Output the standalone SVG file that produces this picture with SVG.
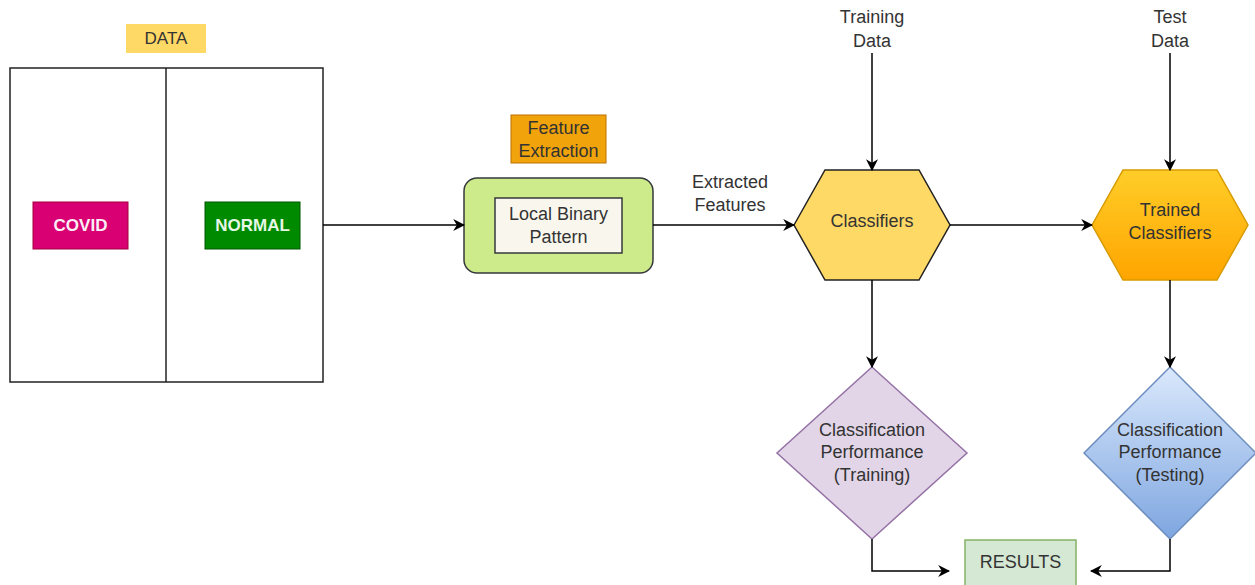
<svg xmlns="http://www.w3.org/2000/svg" width="1255" height="585" viewBox="0 0 1255 585">
<style>
text{font-family:"Liberation Sans",Arial,sans-serif;font-size:18px;fill:#333;text-anchor:middle;dominant-baseline:central}
.c{fill:none;stroke:#000;stroke-width:1.5;marker-end:url(#ah)}
.w{fill:#fbeef6;font-weight:bold;font-size:17px}
.g{fill:#e6f7e6;font-weight:bold;font-size:17px}
</style>
<defs>
<marker id="ah" viewBox="0 0 10 10" refX="9" refY="5" markerWidth="12" markerHeight="12" markerUnits="userSpaceOnUse" orient="auto"><path d="M0,0 L10,5 L0,10 L3,5 Z" fill="#000"/></marker>
<linearGradient id="og" x1="0" y1="0" x2="0" y2="1"><stop offset="0" stop-color="#ffcd28"/><stop offset="1" stop-color="#ffa500"/></linearGradient>
<linearGradient id="bg" x1="0" y1="0" x2="0" y2="1"><stop offset="0" stop-color="#dae8fc"/><stop offset="1" stop-color="#7ea6e0"/></linearGradient>
</defs>
<rect width="1255" height="585" fill="#fff"/>
<g id="data-label"><rect x="126" y="24" width="80" height="29" fill="#ffd966"/><text x="166" y="38.5" style="font-size:17px">DATA</text></g>
<g id="data"><rect x="10" y="68" width="313" height="314" fill="#fff" stroke="#222" stroke-width="1.5"/><line x1="166" y1="68" x2="166" y2="382" stroke="#222" stroke-width="1.5"/></g>
<g id="covid"><rect x="33" y="202" width="95" height="47" fill="#d80073" stroke="#a50040"/><text class="w" x="80.5" y="225.5">COVID</text></g>
<g id="normal"><rect x="205" y="202" width="95" height="47" fill="#008a00" stroke="#005700"/><text class="g" x="252.5" y="225.5">NORMAL</text></g>
<g id="feature-extraction-label"><rect x="511" y="115" width="95" height="48" fill="#f0a30a" stroke="#bd7000"/><text x="558.5" y="127.5">Feature</text><text x="558.5" y="150.5">Extraction</text></g>
<g id="feature-extraction"><rect x="464" y="178" width="189" height="95" rx="13" fill="#cdeb8b" stroke="#36393d" stroke-width="1.5"/><rect x="495" y="198" width="127" height="55" fill="#f9f7ed" stroke="#36393d" stroke-width="1.5"/><text x="558.5" y="214">Local Binary</text><text x="558.5" y="237">Pattern</text></g>
<g id="extracted-features-label"><text x="730" y="182">Extracted</text><text x="730" y="205">Features</text></g>
<g id="training-data-label"><text x="872" y="17">Training</text><text x="872" y="41">Data</text></g>
<g id="test-data-label"><text x="1170" y="17">Test</text><text x="1170" y="41">Data</text></g>
<g id="classifiers"><polygon points="794,225 825,170 919,170 950,225 919,280 825,280" fill="#ffd966" stroke="#222" stroke-width="1.5"/><text x="872" y="221">Classifiers</text></g>
<g id="trained-classifiers"><polygon points="1092,225 1123,170 1217,170 1248,225 1217,280 1123,280" fill="url(#og)" stroke="#d79b00" stroke-width="1.5"/><text x="1170" y="210">Trained</text><text x="1170" y="233">Classifiers</text></g>
<g id="perf-training"><polygon points="872,367 967,453 872,539 777,453" fill="#e1d5e7" stroke="#9673a6" stroke-width="1.5"/><text x="872" y="430">Classification</text><text x="872" y="452">Performance</text><text x="872" y="475">(Training)</text></g>
<g id="perf-testing"><polygon points="1170,367 1256,453 1170,539 1084,453" fill="url(#bg)" stroke="#6c8ebf" stroke-width="1.5"/><text x="1170" y="430">Classification</text><text x="1170" y="452">Performance</text><text x="1170" y="475">(Testing)</text></g>
<g id="results"><rect x="965" y="540" width="111" height="50" fill="#d5e8d4" stroke="#82b366" stroke-width="1.5"/><text x="1020.5" y="562">RESULTS</text></g>
<g id="connectors">
<path class="c" d="M323,225 H464"/>
<path class="c" d="M653,225 H794"/>
<path class="c" d="M950,225 H1092"/>
<path class="c" d="M872,53 V170"/>
<path class="c" d="M1170,53 V170"/>
<path class="c" d="M872,280 V367"/>
<path class="c" d="M1170,280 V367"/>
<path class="c" d="M872,539 V571 H949"/>
<path class="c" d="M1170,539 V571 H1091"/>
</g>
</svg>
